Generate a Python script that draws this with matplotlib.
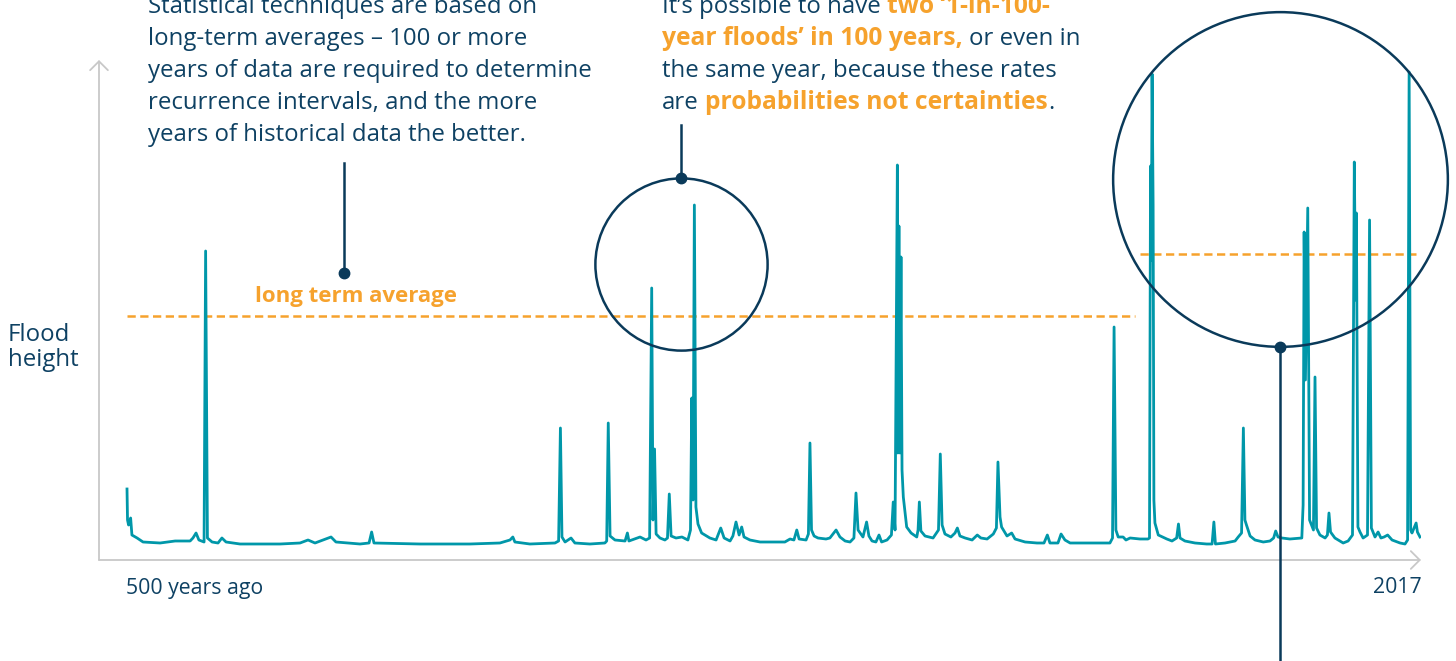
import matplotlib
matplotlib.use("Agg")
import matplotlib.pyplot as plt

# annual flood peaks (year, flood height in arbitrary units)
years = [
    1517.0, 1517.2, 1517.6, 1518.4, 1518.9, 1520.9, 1523.2, 1529.8, 1535.6, 1541.4,
    1542.5, 1543.7, 1544.8, 1546.8, 1547.4, 1548.1, 1549.9, 1552.2, 1553.7, 1555.3,
    1560.7, 1576.2, 1583.9, 1587.0, 1589.7, 1595.9, 1597.8, 1607.1, 1610.6, 1611.6,
    1612.5, 1630.3, 1649.6, 1661.2, 1665.1, 1666.2, 1667.0, 1672.8, 1682.5, 1683.9,
    1684.6, 1685.2, 1686.4, 1688.7, 1690.2, 1696.0, 1701.8, 1702.5, 1703.1, 1703.8,
    1705.7, 1709.6, 1710.5, 1711.1, 1715.4, 1717.7, 1719.1, 1719.9, 1720.4, 1721.0,
    1721.6, 1723.1, 1725.0, 1726.0, 1726.7, 1727.4, 1729.3, 1731.6, 1733.9, 1734.9,
    1735.4, 1735.9, 1736.4, 1737.0, 1737.8, 1739.2, 1742.4, 1744.8, 1746.6, 1747.9,
    1750.2, 1751.3, 1752.5, 1753.7, 1754.7, 1755.6, 1757.9, 1761.8, 1771.4, 1773.4,
    1774.9, 1776.0, 1776.9, 1779.6, 1780.5, 1781.1, 1781.7, 1782.7, 1784.2, 1787.3,
    1788.8, 1791.2, 1792.7, 1794.7, 1796.6, 1798.1, 1798.9, 1799.7, 1800.5, 1801.6,
    1803.0, 1803.9, 1805.1, 1806.6, 1807.8, 1808.8, 1810.9, 1812.6, 1813.3, 1814.0,
    1814.9, 1815.1, 1815.5, 1815.9, 1816.3, 1816.7, 1817.2, 1818.5, 1820.2, 1822.4,
    1822.9, 1823.4, 1824.0, 1825.6, 1828.7, 1830.8, 1831.5, 1832.2, 1833.3, 1835.6,
    1837.2, 1838.1, 1839.1, 1841.1, 1843.8, 1845.8, 1847.2, 1849.6, 1852.0, 1853.2,
    1853.8, 1854.6, 1855.2, 1857.3, 1859.1, 1860.4, 1864.3, 1868.9, 1871.6, 1872.9,
    1873.9, 1877.0, 1878.2, 1879.7, 1881.7, 1889.4, 1897.1, 1898.1, 1898.7, 1899.4,
    1900.3, 1902.2, 1903.3, 1904.9, 1908.7, 1911.8, 1912.4, 1912.8, 1913.1, 1913.4,
    1913.8, 1914.1, 1914.5, 1915.8, 1919.1, 1921.1, 1922.9, 1923.6, 1924.2, 1926.1,
    1930.0, 1934.5, 1936.6, 1937.3, 1937.9, 1941.6, 1945.5, 1946.7, 1948.0, 1948.7,
    1949.3, 1949.9, 1951.3, 1953.2, 1956.4, 1959.0, 1960.4, 1961.2, 1962.1, 1963.6,
    1966.7, 1971.3, 1971.8, 1972.2, 1972.7, 1973.6, 1974.3, 1975.2, 1975.8, 1976.4,
    1977.0, 1978.3, 1980.3, 1981.2, 1981.8, 1982.4, 1984.1, 1987.3, 1989.2, 1990.9,
    1991.6, 1992.1, 1992.4, 1993.0, 1993.8, 1995.0, 1996.7, 1997.5, 1998.2, 1999.6,
    2000.8, 2001.9, 2003.1, 2004.5, 2006.2, 2009.3, 2011.2, 2012.2, 2012.8, 2013.4,
    2013.9, 2014.7, 2015.5, 2016.0, 2017.0,
]
heights = [
    1.42, 0.80, 0.70, 0.84, 0.50, 0.44, 0.36, 0.34, 0.38, 0.38,
    0.44, 0.54, 0.40, 0.36, 6.18, 0.44, 0.36, 0.34, 0.44, 0.36,
    0.32, 0.32, 0.34, 0.40, 0.34, 0.46, 0.36, 0.32, 0.34, 0.56,
    0.34, 0.32, 0.32, 0.34, 0.40, 0.46, 0.36, 0.32, 0.34, 0.38,
    2.64, 0.46, 0.36, 0.44, 0.34, 0.32, 0.34, 0.38, 2.74, 0.48,
    0.40, 0.38, 0.54, 0.38, 0.46, 0.40, 0.44, 5.44, 0.80, 2.22,
    0.52, 0.44, 0.40, 0.44, 1.32, 0.48, 0.44, 0.46, 0.40, 0.60,
    3.24, 1.20, 7.10, 1.06, 0.72, 0.54, 0.44, 0.40, 0.64, 0.44,
    0.38, 0.48, 0.76, 0.50, 0.66, 0.46, 0.40, 0.36, 0.36, 0.42,
    0.40, 0.60, 0.42, 0.40, 0.52, 2.34, 0.60, 0.48, 0.44, 0.42,
    0.44, 0.60, 0.46, 0.38, 0.36, 0.44, 1.34, 0.60, 0.54, 0.46,
    0.76, 0.48, 0.38, 0.36, 0.50, 0.36, 0.40, 0.50, 1.16, 0.60,
    7.90, 2.14, 6.68, 2.14, 6.06, 1.80, 1.26, 0.66, 0.54, 0.46,
    0.60, 1.16, 0.58, 0.48, 0.44, 0.60, 2.12, 0.70, 0.52, 0.46,
    0.54, 0.64, 0.48, 0.44, 0.40, 0.50, 0.44, 0.42, 0.52, 0.64,
    1.96, 0.86, 0.66, 0.48, 0.54, 0.42, 0.36, 0.34, 0.34, 0.50,
    0.34, 0.34, 0.52, 0.40, 0.34, 0.34, 0.34, 0.44, 4.66, 0.60,
    0.46, 0.46, 0.40, 0.44, 0.42, 0.42, 0.44, 7.88, 6.00, 9.72,
    7.10, 1.20, 0.74, 0.50, 0.42, 0.38, 0.44, 0.72, 0.44, 0.38,
    0.34, 0.32, 0.32, 0.76, 0.32, 0.34, 0.38, 0.46, 0.54, 2.64,
    0.80, 0.70, 0.48, 0.40, 0.36, 0.38, 0.44, 0.58, 0.46, 0.44,
    0.42, 0.44, 1.10, 6.56, 3.60, 7.04, 0.80, 0.68, 0.60, 3.66,
    0.64, 0.50, 0.44, 0.50, 0.94, 0.56, 0.44, 0.34, 0.38, 0.50,
    7.96, 5.20, 6.94, 0.66, 0.56, 0.44, 0.50, 6.80, 0.64, 0.46,
    0.56, 0.44, 0.46, 0.50, 0.40, 0.34, 0.32, 0.40, 9.76, 0.60,
    0.54, 0.64, 0.74, 0.56, 0.46,
]

# long term averages: (start year, end year, level)
avg_old = (1517.0, 1906.8, 4.88)
avg_recent = (1908.7, 2017.0, 6.12)

y_label = ["Flood", "height"]
x_start_label = "500 years ago"
x_end_label = "2017"
avg_label = "long term average"

left_note = [
    "Statistical techniques are based on",
    "long-term averages \u2013 100 or more",
    "years of data are required to determine",
    "recurrence intervals, and the more",
    "years of historical data the better.",
]
# (text, bold?) pieces per line
right_note = [
    [("It\u2019s possible to have", False), (" two \u20181-in-100-", True)],
    [("year floods\u2019 in 100 years,", True), (" or even in", False)],
    [("the same year, because these rates", False)],
    [("are", False), (" probabilities not certainties", True), (".", False)],
]

TEAL = "#0097a9"
ORANGE = "#f6a22d"
NAVY = "#0e4163"
RING = "#0a3a5a"
GREY = "#c8c8c8"
W, H = 1456, 661

plt.rcParams["font.family"] = ["Open Sans", "DejaVu Sans"]

fig = plt.figure(figsize=(W / 100, H / 100), dpi=100)
ax = fig.add_axes([99 / W, 101 / H, 1322 / W, 500 / H])
ax.set_xlim(1506.17, 2017.39)
ax.set_ylim(0, 10)
ax.axis("off")

# axes drawn as thin arrows
arrow = dict(arrowstyle="->,head_length=0.4,head_width=0.4", color=GREY, lw=1.3,
             mutation_scale=16, shrinkA=0, shrinkB=0)
ax.annotate("", xy=(0, 1), xytext=(0, 0), xycoords="axes fraction", arrowprops=arrow)
ax.annotate("", xy=(1, 0), xytext=(0, 0), xycoords="axes fraction", arrowprops=arrow)

ax.plot(years, heights, color=TEAL, lw=2.0, solid_joinstyle="round", zorder=3)

for x0, x1, lvl in (avg_old, avg_recent):
    ax.plot([x0, x1], [lvl, lvl], color=ORANGE, lw=1.8, dashes=(3.3, 1.8), zorder=2)

# circles highlighting the clusters
ax.plot([1731.4], [5.92], "o", ms=124, mfc="none", mec=RING, mew=1.8, clip_on=False, zorder=4)
ax.plot([1963.0], [7.62], "o", ms=241, mfc="none", mec=RING, mew=1.8, clip_on=False, zorder=4)

# pointer lines with dots
pointers = [((1600.9, 7.94), (1600.9, 5.74)),
            ((1731.4, 8.70), (1731.4, 7.64)),
            ((1963.0, -2.2), (1963.0, 4.27))]
for (xa, ya), (xb, yb) in pointers:
    ax.plot([xa, xb], [ya, yb], color=RING, lw=1.8, clip_on=False, zorder=5)
    ax.plot([xb], [yb], "o", ms=7.5, color=RING, clip_on=False, zorder=6)

body = dict(fontsize=17.3, color=NAVY, fontweight="normal", va="baseline")
bold = dict(fontsize=17.7, color=ORANGE, fontweight="bold", va="baseline")

ax.text(1605.7, 5.16, avg_label, ha="center", **dict(bold, fontsize=16))

fig.text(8 / W, 1 - 341 / H, y_label[0], **body)
fig.text(8 / W, 1 - 366 / H, y_label[1], **body)
small = dict(body, fontsize=15.3)
fig.text(126 / W, 1 - 594 / H, x_start_label, **small)
fig.text(1422 / W, 1 - 593 / H, x_end_label, ha="right", **small)

baselines = [13, 45, 77, 109, 141]
for line, yb in zip(left_note, baselines):
    fig.text(148 / W, 1 - yb / H, line, **body)

renderer = fig.canvas.get_renderer()


def width_of(s, style):
    t = fig.text(0, 0, s, **style)
    w = t.get_window_extent(renderer).width
    t.remove()
    return w


for parts, yb in zip(right_note, baselines):
    x = 662
    for s, is_bold in parts:
        style = bold if is_bold else body
        if s.startswith(" "):
            x += width_of("a a", body) - width_of("aa", body)
            s = s[1:]
        t = fig.text(x / W, 1 - yb / H, s, **style)
        x += t.get_window_extent(renderer).width

fig.savefig("out.png", dpi=100)
